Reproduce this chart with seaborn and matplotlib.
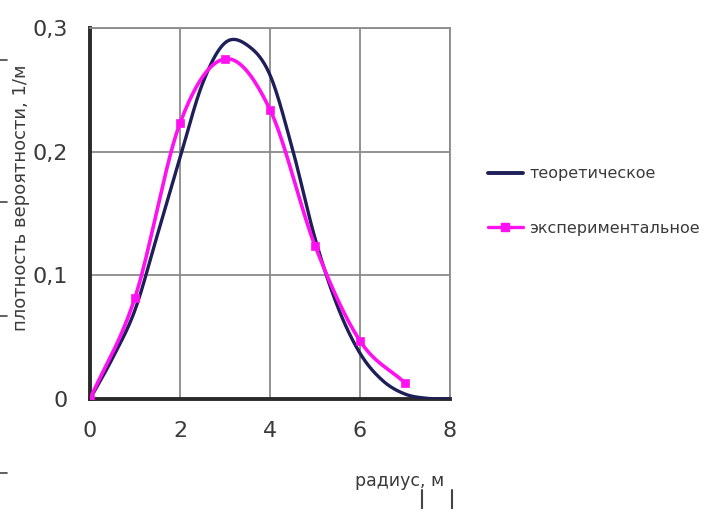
import numpy as np
import pandas as pd
import seaborn as sns
import matplotlib.pyplot as plt
from matplotlib.lines import Line2D

# Theoretical density, read every 0.5 m
r_theory = [0, 0.5, 1, 1.5, 2, 2.5, 3, 3.5, 4, 4.5, 5, 5.5, 6, 6.5, 7, 7.5, 8]
p_theory = [0, 0.033, 0.072, 0.133, 0.195, 0.255, 0.288, 0.286, 0.262, 0.202,
            0.130, 0.075, 0.037, 0.015, 0.004, 0.0005, 0]

# Experimental density at whole metres
r_exp = [0, 1, 2, 3, 4, 5, 6, 7]
p_exp = [0, 0.082, 0.223, 0.275, 0.234, 0.124, 0.047, 0.013]

x_ticks = [0, 2, 4, 6, 8]
y_ticks = [0, 0.1, 0.2, 0.3]
y_tick_labels = ["0", "0,1", "0,2", "0,3"]
series_names = ["теоретическое", "экспериментальное"]


def smooth(x, y, n=20):
    """Catmull-Rom smoothing, as used for a smoothed line through points."""
    x = np.asarray(x, float)
    y = np.asarray(y, float)
    px = np.concatenate([[2 * x[0] - x[1]], x, [2 * x[-1] - x[-2]]])
    py = np.concatenate([[2 * y[0] - y[1]], y, [2 * y[-1] - y[-2]]])
    xs, ys = [], []
    t = np.linspace(0, 1, n, endpoint=False)[:, None]
    for i in range(1, len(px) - 2):
        p0, p1, p2, p3 = (np.array([px[j], py[j]]) for j in range(i - 1, i + 3))
        pts = 0.5 * ((2 * p1) + (-p0 + p2) * t + (2 * p0 - 5 * p1 + 4 * p2 - p3) * t ** 2
                     + (-p0 + 3 * p1 - 3 * p2 + p3) * t ** 3)
        xs.extend(pts[:, 0])
        ys.extend(pts[:, 1])
    xs.append(x[-1])
    ys.append(y[-1])
    return np.array(xs), np.clip(np.array(ys), 0, None)


sns.set_style("white")
plt.rcParams["font.family"] = ["DejaVu Sans"]

W, H = 704, 509
fig = plt.figure(figsize=(W / 100, H / 100), dpi=100)
ax = fig.add_axes([90 / W, 1 - 399 / H, 360 / W, 371 / H])

navy = "#1e1e58"
magenta = "#ff10f0"
text_col = "#3a3a3a"

tx, ty = smooth(r_theory, p_theory)
ex, ey = smooth(r_exp, p_exp)
df_t = pd.DataFrame({"r": tx, "p": ty})
df_e = pd.DataFrame({"r": ex, "p": ey})
df_pts = pd.DataFrame({"r": r_exp, "p": p_exp})

sns.lineplot(data=df_t, x="r", y="p", ax=ax, color=navy, lw=2.4, sort=False,
             estimator=None, zorder=3)
sns.lineplot(data=df_e, x="r", y="p", ax=ax, color=magenta, lw=2.6, sort=False,
             estimator=None, zorder=4)
sns.scatterplot(data=df_pts, x="r", y="p", ax=ax, color=magenta, marker="s",
                s=36, edgecolor=magenta, zorder=5)

ax.set_xlim(0, 8)
ax.set_ylim(0, 0.3)
ax.set_xticks(x_ticks)
ax.set_yticks(y_ticks)
ax.set_yticklabels(y_tick_labels)
ax.tick_params(axis="both", labelsize=16, length=5, width=1.5, color="#333333",
               direction="out", labelcolor=text_col)
ax.tick_params(axis="y", pad=11)
ax.tick_params(axis="x", pad=11)
ax.grid(True, color="#8a8a8a", lw=1.3)
ax.set_axisbelow(True)

for s in ("left", "bottom"):
    ax.spines[s].set_color("#2a2a2a")
    ax.spines[s].set_linewidth(2.8)
for s in ("top", "right"):
    ax.spines[s].set_color("#8a8a8a")
    ax.spines[s].set_linewidth(1.3)

ax.set_xlabel("")
ax.set_ylabel("")
fig.text(21 / W, 1 - 198 / H, "плотность вероятности, 1/м", rotation=90,
         ha="center", va="center", fontsize=13, color=text_col)
fig.text(400 / W, 1 - 481 / H, "радиус, м", ha="center", va="center",
         fontsize=12.5, color=text_col)

# Legend
handles = [Line2D([], [], color=navy, lw=2.8),
           Line2D([], [], color=magenta, lw=2.4, marker="s", markersize=6)]
fig.legend(handles, series_names,
           loc="center left", bbox_to_anchor=(475 / W, 1 - 201 / H),
           frameon=False, fontsize=11.5, handlelength=2.2, handletextpad=0.4,
           labelspacing=2.45, labelcolor=text_col, borderpad=0.3)

# Short marks along the left edge and the bracket under the axis title
for yy in (60, 202, 316, 473):
    fig.add_artist(Line2D([0, 7 / W], [1 - yy / H] * 2, color="#444444", lw=1.2))
for xx in (422, 452):
    fig.add_artist(Line2D([xx / W] * 2, [1 - 490 / H, 0], color="#444444", lw=1.5))

fig.savefig("out.png", dpi=100)
